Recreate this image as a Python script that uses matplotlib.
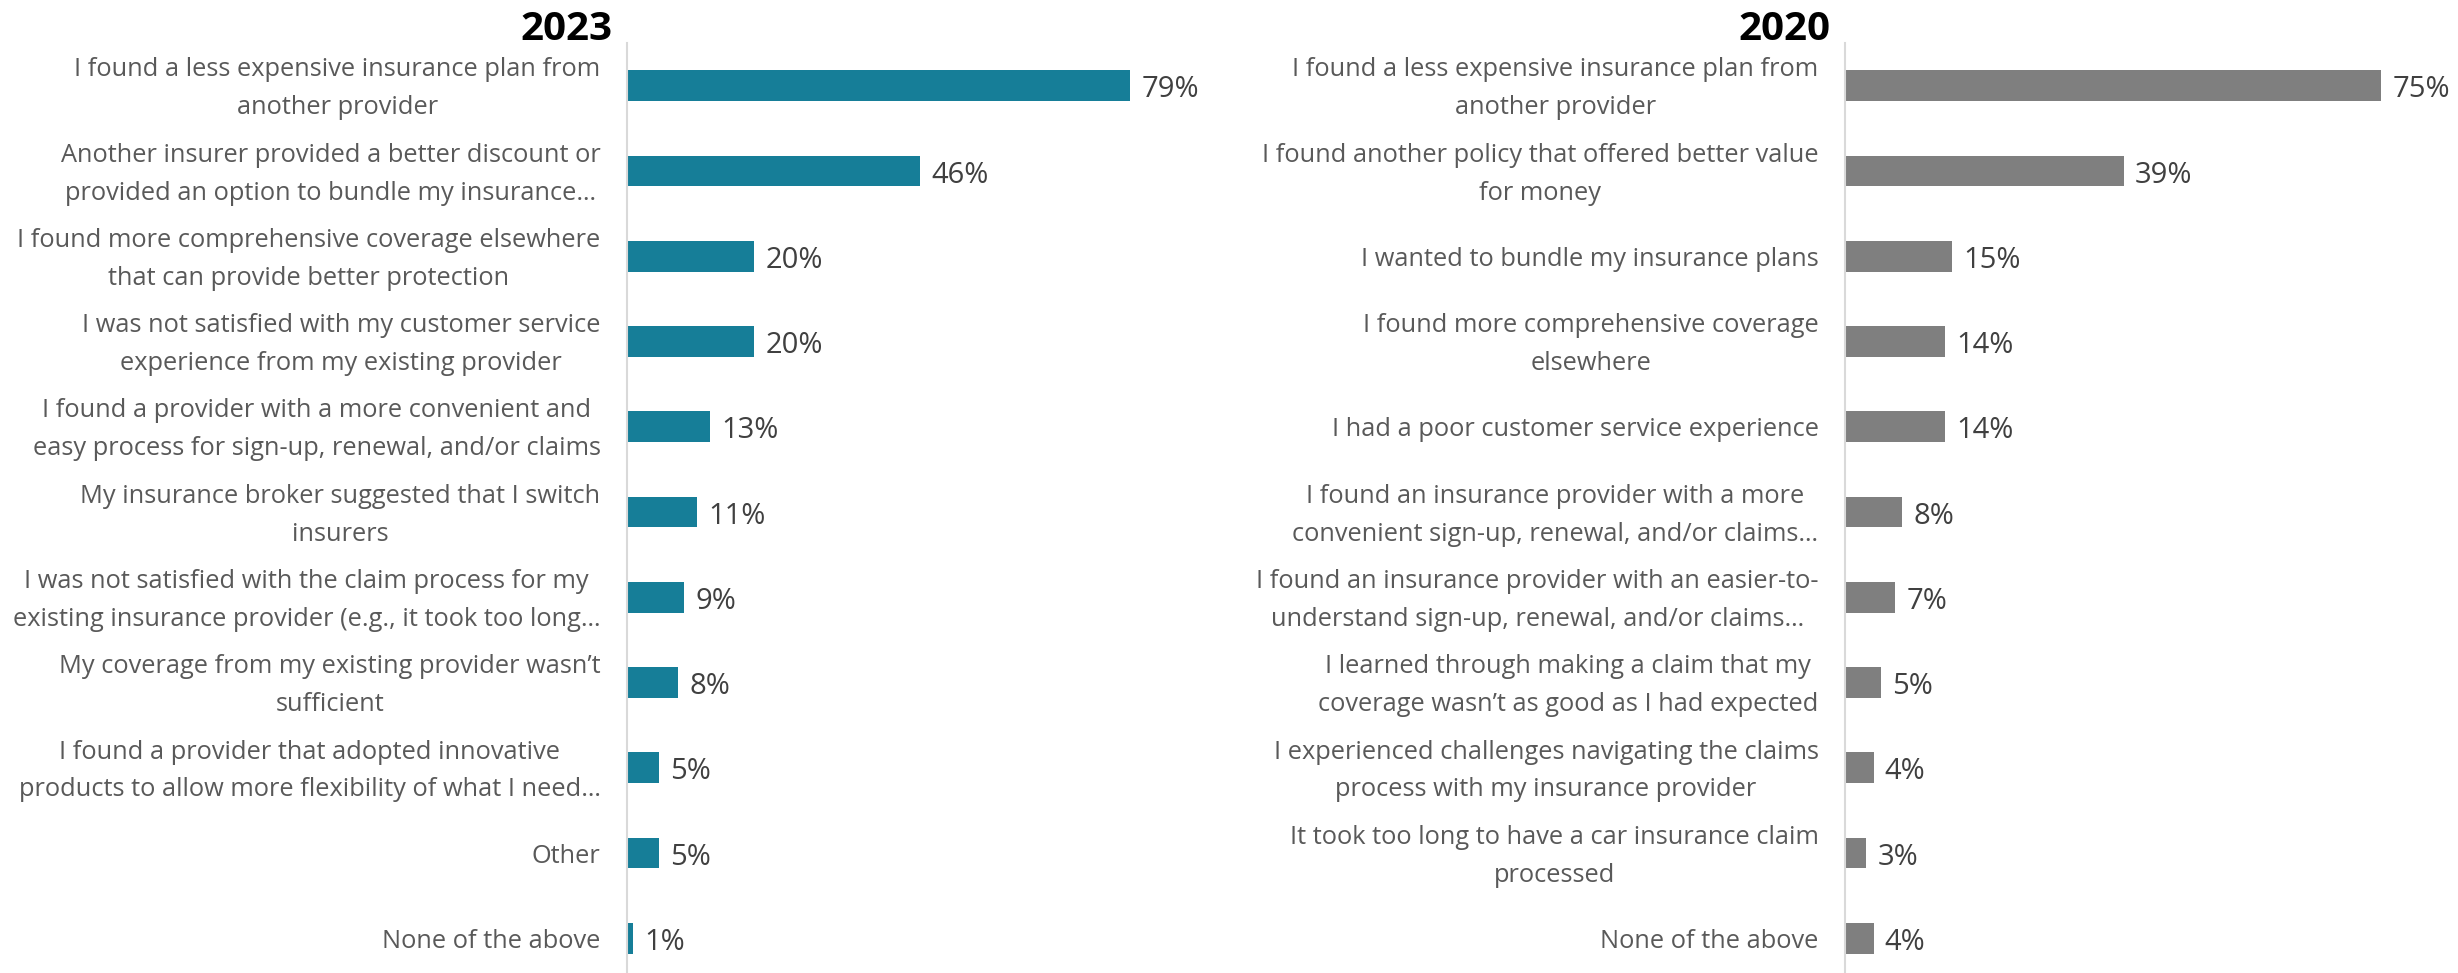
import matplotlib.pyplot as plt

plt.rcParams["font.family"] = ["Open Sans", "DejaVu Sans"]

labels_2023 = [
    "I found a less expensive insurance plan from\nanother provider",
    "Another insurer provided a better discount or\nprovided an option to bundle my insurance…",
    "I found more comprehensive coverage elsewhere\nthat can provide better protection",
    "I was not satisfied with my customer service\nexperience from my existing provider",
    "I found a provider with a more convenient and\neasy process for sign-up, renewal, and/or claims",
    "My insurance broker suggested that I switch\ninsurers",
    "I was not satisfied with the claim process for my\nexisting insurance provider (e.g., it took too long…",
    "My coverage from my existing provider wasn’t\nsufficient",
    "I found a provider that adopted innovative\nproducts to allow more flexibility of what I need…",
    "Other",
    "None of the above",
]
values_2023 = [79, 46, 20, 20, 13, 11, 9, 8, 5, 5, 1]

labels_2020 = [
    "I found a less expensive insurance plan from\nanother provider",
    "I found another policy that offered better value\nfor money",
    "I wanted to bundle my insurance plans",
    "I found more comprehensive coverage\nelsewhere",
    "I had a poor customer service experience",
    "I found an insurance provider with a more\nconvenient sign-up, renewal, and/or claims…",
    "I found an insurance provider with an easier-to-\nunderstand sign-up, renewal, and/or claims…",
    "I learned through making a claim that my\ncoverage wasn’t as good as I had expected",
    "I experienced challenges navigating the claims\nprocess with my insurance provider",
    "It took too long to have a car insurance claim\nprocessed",
    "None of the above",
]
values_2020 = [75, 39, 15, 14, 14, 8, 7, 5, 4, 3, 4]

W, H = 2458, 973
fig = plt.figure(figsize=(W / 100, H / 100), dpi=100)

top = 1 - 43 / H
bottom = 1 - 981 / H


def panel(x0, xmax, px_per_pct, labels, values, color, title):
    width = xmax * px_per_pct / W
    ax = fig.add_axes([x0 / W, bottom, width, top - bottom])
    y = list(range(len(values)))
    ax.barh(y, values, height=0.36, color=color)
    ax.set_ylim(len(values) - 0.5, -0.5)
    ax.set_xlim(0, xmax)
    ax.set_xticks([])
    ax.set_yticks([])
    for s in ["top", "right", "bottom"]:
        ax.spines[s].set_visible(False)
    ax.spines["left"].set_color("#D9D9D9")
    ax.spines["left"].set_linewidth(1.5)
    # category labels, centred lines, right-aligned against the axis
    for yi, lab in zip(y, labels):
        ax.annotate(lab, (0, yi), xytext=(-19, -2.3), textcoords="offset points",
                    ha="right", va="center", multialignment="center",
                    linespacing=1.68, fontsize=18.3, color="#595959",
                    annotation_clip=False)
    for yi, v in zip(y, values):
        ax.annotate(f"{v}%", (v, yi), xytext=(8, -3), textcoords="offset points",
                    va="center", ha="left", fontsize=21, color="#404040")
    fig.text((x0 - 15) / W, 1 - 40 / H, title, ha="right", va="baseline",
             fontsize=29, fontweight="bold", color="black")
    return ax


panel(627, 90, 6.37, labels_2023, values_2023, "#167E98", "2023")
panel(1845, 80, 7.15, labels_2020, values_2020, "#7F7F7F", "2020")

fig.savefig("out.png", dpi=100)
